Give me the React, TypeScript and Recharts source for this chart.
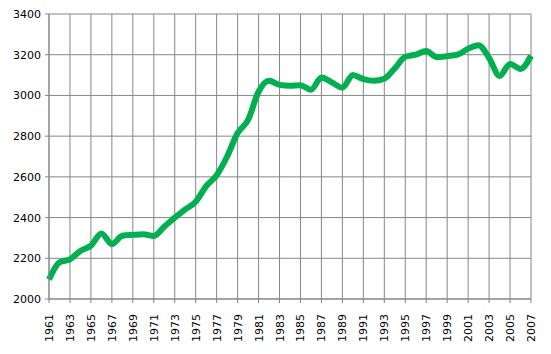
import { LineChart, Line, XAxis, YAxis, ReferenceLine } from "recharts";

const years = [
  1961, 1962, 1963, 1964, 1965, 1966, 1967, 1968, 1969, 1970, 1971, 1972,
  1973, 1974, 1975, 1976, 1977, 1978, 1979, 1980, 1981, 1982, 1983, 1984,
  1985, 1986, 1987, 1988, 1989, 1990, 1991, 1992, 1993, 1994, 1995, 1996,
  1997, 1998, 1999, 2000, 2001, 2002, 2003, 2004, 2005, 2006, 2007,
];
const values = [
  2096, 2180, 2195, 2236, 2262, 2322, 2270, 2311, 2315, 2318, 2310, 2355,
  2400, 2440, 2478, 2555, 2608, 2700, 2815, 2880, 3018, 3072, 3052, 3048,
  3050, 3028, 3088, 3064, 3038, 3100, 3080, 3072, 3082, 3133, 3190, 3200,
  3218, 3188, 3193, 3200, 3230, 3247, 3184, 3096, 3155, 3130, 3195,
];
const xTicks = [
  1961, 1963, 1965, 1967, 1969, 1971, 1973, 1975, 1977, 1979, 1981, 1983,
  1985, 1987, 1989, 1991, 1993, 1995, 1997, 1999, 2001, 2003, 2005, 2007,
];
const yTicks = [2000, 2200, 2400, 2600, 2800, 3000, 3200, 3400];

const data = years.map((year, i) => ({ year, value: values[i] }));

const gridColor = "#868686";
const font = "DejaVu Sans, sans-serif";

function XTick({ x, y, payload }: any) {
  return (
    <text
      transform={`translate(${x + 4},${y + 9}) rotate(-90)`}
      textAnchor="end"
      fontSize={11}
      fontFamily={font}
      fill="#000"
    >
      {payload.value}
    </text>
  );
}

function YTick({ x, y, payload }: any) {
  return (
    <text
      x={x - 2}
      y={y + 4}
      textAnchor="end"
      fontSize={11}
      fontFamily={font}
      fill="#000"
    >
      {payload.value}
    </text>
  );
}

export default function App() {
  return (
    <div style={{ position: "absolute", left: 0, top: 0, background: "#fff" }}>
      <LineChart
        width={551}
        height={354}
        data={data}
        margin={{ top: 14, right: 20, left: 0, bottom: 0 }}
      >
        <XAxis
          dataKey="year"
          type="number"
          domain={[1961, 2007]}
          ticks={xTicks}
          interval={0}
          height={55}
          stroke={gridColor}
          tickSize={4}
          tick={<XTick />}
        />
        <YAxis
          type="number"
          domain={[2000, 3400]}
          ticks={yTicks}
          width={49}
          stroke={gridColor}
          tickSize={4}
          tick={<YTick />}
        />
        {yTicks.map((v) => (
          <ReferenceLine key={`h${v}`} y={v} stroke={gridColor} strokeWidth={1} />
        ))}
        {xTicks.map((v) => (
          <ReferenceLine key={`v${v}`} x={v} stroke={gridColor} strokeWidth={1} />
        ))}
        <Line
          type="monotone"
          dataKey="value"
          stroke="#00b050"
          strokeWidth={6}
          dot={false}
          isAnimationActive={false}
        />
      </LineChart>
    </div>
  );
}
